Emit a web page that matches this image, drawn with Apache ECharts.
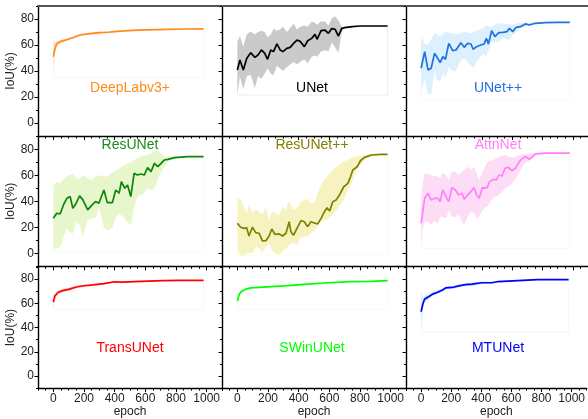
<!DOCTYPE html>
<html><head><meta charset="utf-8">
<script src="https://cdn.jsdelivr.net/npm/echarts@6/dist/echarts.min.js"></script>
<style>html,body{margin:0;padding:0;background:#fff}#c{width:588px;height:419px}</style>
</head><body><div id="c"></div>
<script>
// ---------------- data ----------------
const modelNames = ['DeepLabv3+','UNet','UNet++','ResUNet','ResUNet++','AttnNet','TransUNet','SWinUNet','MTUNet'];
const xTickValues = [0,200,400,600,800,1000];
const yTickValues = [0,20,40,60,80];
const bandFloor = [35,21.5,17.7,1.3,-2,3.8,55,55,36];

const deeplabEpoch = [0,10,22,50,87,130,174,240,300,360,413,460,522,600,740,860,980];
const deeplabMean  = [51,57,61,62.8,64,65.8,67.7,68.8,69.5,69.8,70.5,70.8,71.3,71.6,72,72.3,72.4];
const deeplabUpper = [65,62,63,64,65,66.7,68.5,69.6,70.2,70.5,71.2,71.5,71.9,72.1,72.4,72.6,72.6];
const deeplabLower = [35,52,59,61.5,63,65,67,68,68.8,69.1,69.8,70.2,70.7,71.1,71.6,72,72.2];

const unetEpoch = [0,17,39,61,87,114,135,157,179,197,218,236,258,279,297,323,345,367,389,410,437,459,485,507,520,546,572,594,616,638,659,681,700,750,800,900,980];
const unetMean  = [40.8,48.5,40.8,49.7,54.1,50.5,52.3,56.2,53.6,49,56.2,54.9,60.8,56.2,54.9,57.4,58.2,61.3,63.8,62.8,58.7,63.3,65.1,68.2,64.4,71,71.5,69,72.6,72.1,66.9,72.8,73.3,74.2,74.6,74.6,74.6];
const unetUpper = [62.5,66.9,58.7,68,70.3,68,70,71,70,66,68,72.5,71,72,74,70,73,76.5,72,74,75,74,78,77,75.5,78,78,75,80.5,82,79,74,74,74.5,74.8,74.8,74.8];
const unetLower = [21.5,35.9,26,36,37,27,36,34,38,42,38,37,44,42,40,43,45,47,45,47,49,46,51,52,51,55,56,55,62,58,54,70,72.8,73.8,74.4,74.4,74.4];

const unetppEpoch = [0,23,45,66,88,103,125,143,160,182,208,230,262,284,306,328,343,365,393,415,430,443,465,486,512,539,567,582,604,626,654,687,713,752,817,904,980];
const unetppMean  = [42.1,54.9,40.8,42.1,53.6,51,46.4,51,48.9,61.3,55.6,56.2,61.8,58.2,61.3,60.8,56.7,58.7,60,60.8,65.1,60.8,71,66.4,69.5,69.7,70.3,72.8,70.3,73.6,74.1,76.2,75.4,76.7,77.2,77.4,77.4];
const unetppUpper = [66.4,61,60,64.4,69,68,66.5,68.5,70.3,69.5,69,68,69,70.3,69.5,69,70,71,72,73.5,75.4,74,74,75.5,76.7,76.5,76,76,75.5,76.5,77.2,77.2,77.2,77.4,77.5,77.6,77.6];
const unetppLower = [24,34.4,22,22,40.8,33,32,38.5,35,43,40,40,48.5,49.7,47,44,42.1,47,51,53,51,56,62.5,62,62.5,66,64,64,68,70,72.8,74.6,75,76.2,77,77.2,77.2];

const resunetEpoch = [0,22,44,66,88,110,127,149,171,193,224,253,275,297,330,352,385,407,429,444,466,484,505,527,549,571,593,615,637,659,681,703,725,747,791,879,980];
const resunetMean  = [26.9,30.8,30.2,37.2,42.3,43.6,34.6,38.5,44.2,41.1,33.4,37.2,39.8,38.5,48.7,39,39,48.7,46.2,55.1,50,52.6,43.6,61.5,60.2,61,60.2,66,62.8,69.2,66.6,69.2,71.8,72.3,73.6,74.4,74.4];
const resunetUpper = [52.5,55,53.8,57,59,60.5,61,58,57,60,57.5,56.4,59,60,59,59,62,64,65,66.6,68,69.2,70,71.8,73,74.4,75,75.6,77,79.5,78.5,77,74.4,74.5,74.6,74.6,74.6];
const resunetLower = [2.5,4,5,12,19,16,15,24,22,13,25.6,26.9,26.9,35,20,17.8,19,28,30,29.3,27,24,21.5,36,43.6,45,46.2,50,48.7,50,56.4,62.8,66.6,70.5,73,74.2,74.2];

const resunetppEpoch = [0,22,44,61,76,98,120,142,164,186,207,225,245,273,295,317,338,349,367,389,415,437,459,480,507,524,546,568,585,603,622,644,666,694,721,738,753,782,803,830,873,939,980];
const resunetppMean  = [23.1,20,19.2,19.7,13.3,20,15.9,15.4,9.5,9.7,13.3,18.7,14.6,14.9,13.3,15.4,24.3,16.6,14,19.2,25.1,24.3,20.5,24.3,23.1,22.6,26.9,32,35.1,32.5,39.7,41,44.8,51.2,53.8,58.9,64.1,66.6,71.2,73.8,75.6,76.1,76.1];
const resunetppUpper = [42.3,41.5,35,31,37.2,31,34,32,30,35,25.6,32,31,29,35.9,33,41,38,33,35,40,41,42,38,40,46.2,52.6,56.4,59,61.5,64,66.6,67.9,70.5,72,73.1,74,74.6,75,75.4,76,76.3,76.3];
const resunetppLower = [2.5,-2.1,-1.3,0,0.5,0,5.1,3.8,0.5,5,7.7,3,0,-1.3,1.5,3.8,6,7.7,7.7,6,12.8,12.8,12.8,15.4,18,20.5,24,25.6,25.6,28,29.5,33,37,41,48.7,52,56.4,65,68,71.5,74.4,75.8,75.8];

const attnEpoch = [0,12,23,44,66,88,110,125,142,164,182,203,225,247,269,284,306,328,349,365,382,404,421,436,452,473,495,513,534,552,573,599,621,647,669,691,713,734,756,817,904,980];
const attnMean  = [23.1,33.3,42.3,46.2,41,42.3,42.3,39.7,48.7,43.6,39.7,50.7,48.7,44.8,46.2,41.5,44.8,47.4,50.7,44.8,42.3,50.7,50,50.7,55.1,56.9,56.4,60.2,59.5,65.4,66.2,63.6,65.4,70.5,73.1,74.4,72.3,74.4,76.5,77,77,77];
const attnUpper = [43.6,55,61.5,61,60.2,59.5,59,57.7,62,60,56.4,63,63,60,62.8,64,66.6,64,66.6,62,56.4,62,66.6,70,71,71.8,73,74.4,75,75.6,74.5,73.5,74,75.6,76,76.4,76.6,77,77.2,77.4,77.5,77.5];
const attnLower = [3.8,20.2,24,24,22,25,23,28,28,27,33,28,28,30,24,21.5,28.2,32,31,27,28,33.3,35,35.9,39,42.3,43.6,45,47.4,50,51.3,53.8,57,62,66.6,70,71,73.1,75.6,76.4,76.6,76.6];

const transEpoch = [0,10,30,60,100,150,200,260,330,400,410,450,530,620,720,830,980];
const transMean  = [61,66,69,70.5,71.5,73.5,74.5,75.3,76.3,77.8,77,77.5,78,78.4,78.8,79,79];
const transUpper = [66,68,70.5,71.8,72.8,74.5,75.5,76,77,78.5,77.8,78,78.5,78.8,79.1,79.2,79.2];
const transLower = [55,63,67.5,69,70.3,72.5,73.5,74.6,75.6,77,76.2,77,77.5,78,78.5,78.8,78.8];

const swinEpoch = [0,11,26,55,87,197,306,437,590,742,873,980];
const swinMean  = [62,67,69.7,71.7,72.8,73.6,74.4,75.7,77,78,78.2,78.8];
const swinUpper = [63,68,70.3,72.2,73.2,74,74.8,76,77.3,78.2,78.4,79];
const swinLower = [55,66,69,71.2,72.4,73.2,74,75.4,76.7,77.8,78,78.6];

const mtunetEpoch = [0,12,23,55,77,110,143,164,208,251,295,340,360,404,469,513,643,774,980];
const mtunetMean  = [53,59.4,63.3,65.8,67.6,69.2,71,72.8,73.1,74.4,75.4,75.8,76.2,77,77,78,78.8,79.6,79.6];
const mtunetUpper = [69,64,66,68,69.5,70.8,72.5,74,74.5,75.6,76.6,77.5,77.3,78,77.8,78.6,79.2,80,80];
const mtunetLower = [36,55,61,64,66,67.8,69.5,71.5,71.8,73.2,74.3,74.2,75,76,76.2,77.4,78.4,79.2,79.2];

// ---------------- styles ----------------
const lineColors = ['#FF8C1A','#000000','#2171DE','#0B860B','#808000','#FF7FFF','#FF0000','#00FF00','#0000FF'];
const bandColors = ['#FDE2C6','#CACACA','#DDF0FD','#E8F6CC','#F7F3C0','#FDDDF6','#FFD6D6','#D6FFD6','#D3EAFB'];
const titleColors = ['#FF8C1A','#000000','#2171DE','#1C8C1C','#808000','#FF7FFF','#FF0000','#00FF00','#0000FF'];
const titlePos = [[130,88],[312,88],[498,88],[130,145],[312,145],[498,145],[130,348],[312,348],[498,348]];

const epochs = [deeplabEpoch,unetEpoch,unetppEpoch,resunetEpoch,resunetppEpoch,attnEpoch,transEpoch,swinEpoch,mtunetEpoch];
const means  = [deeplabMean,unetMean,unetppMean,resunetMean,resunetppMean,attnMean,transMean,swinMean,mtunetMean];
const uppers = [deeplabUpper,unetUpper,unetppUpper,resunetUpper,resunetppUpper,attnUpper,transUpper,swinUpper,mtunetUpper];
const lowers = [deeplabLower,unetLower,unetppLower,resunetLower,resunetppLower,attnLower,transLower,swinLower,mtunetLower];

const FONT = 'Liberation Sans, Arial, sans-serif';
const colLeft = [38,222,406], rowTop = [6,136.3,267], gW = 184, gH = 130;
const xMin=-100, xMax=1100, yMin=-10, yMax=90;
const plain = v => String(v);

const grid=[], xAxis=[], yAxis=[], series=[], graphic=[];
for (let i=0;i<9;i++){
  const r=Math.floor(i/3), c=i%3;
  grid.push({left:colLeft[c], top:rowTop[r], width:gW, height:gH});
  const xi = xAxis.length;
  xAxis.push({gridIndex:i,type:'value',min:xMin,max:xMax,position:'bottom',
    axisLine:{show:true,onZero:false,lineStyle:{color:'#000',width:1.4}},
    axisTick:{show:true,customValues:xTickValues,length:4,lineStyle:{color:'#000',width:1}},
    axisLabel:{show:r===2,customValues:xTickValues,formatter:plain,fontSize:12,color:'#222',margin:5,fontFamily:FONT},
    splitLine:{show:false},
    name:r===2?'epoch':'',nameLocation:'middle',nameGap:15,nameTextStyle:{fontSize:12,color:'#222',fontFamily:FONT}});
  xAxis.push({gridIndex:i,type:'value',min:xMin,max:xMax,interval:50,position:'bottom',
    axisLine:{show:false,onZero:false},axisTick:{show:true,length:2.5,lineStyle:{color:'#000',width:1}},
    axisLabel:{show:false},splitLine:{show:false}});
  if (r===0){
    xAxis.push({gridIndex:i,type:'value',min:xMin,max:xMax,position:'top',
      axisLine:{show:true,onZero:false,lineStyle:{color:'#555',width:2}},axisTick:{show:false},axisLabel:{show:false},splitLine:{show:false}});
  }
  const yi = yAxis.length;
  yAxis.push({gridIndex:i,type:'value',min:yMin,max:yMax,position:'left',
    axisLine:{show:true,onZero:false,lineStyle:{color:'#000',width:1.4}},
    axisTick:{show:true,customValues:yTickValues,length:3.5,lineStyle:{color:'#000',width:1}},
    axisLabel:{show:c===0,customValues:yTickValues,formatter:plain,fontSize:12,color:'#222',margin:4,fontFamily:FONT},
    splitLine:{show:false},
    name:c===0?'IoU(%)':'',nameLocation:'middle',nameGap:16,nameTextStyle:{fontSize:12,color:'#222',fontFamily:FONT}});
  yAxis.push({gridIndex:i,type:'value',min:yMin,max:yMax,interval:10,position:'left',
    axisLine:{show:false,onZero:false},axisTick:{show:true,length:2,lineStyle:{color:'#000',width:1}},
    axisLabel:{show:false},splitLine:{show:false}});

  const xs=epochs[i], mu=means[i], hi=uppers[i], lo=lowers[i], fl=bandFloor[i], bc=bandColors[i];
  series.push({type:'custom',xAxisIndex:xi,yAxisIndex:yi,silent:true,z:1,
    data:[[xs[0],lo[0]]],
    renderItem:function(params,api){
      const pts=[];
      for(let k=0;k<xs.length;k++) pts.push(api.coord([xs[k],hi[k]]));
      for(let k=xs.length-1;k>=0;k--) pts.push(api.coord([xs[k],lo[k]]));
      const n=xs.length-1;
      const frame=[api.coord([xs[0],lo[0]]),api.coord([xs[0],fl]),api.coord([xs[n],fl]),api.coord([xs[n],hi[n]])];
      return {type:'group',children:[
        {type:'polyline',shape:{points:frame},style:{stroke:bc,lineWidth:1,fill:null,opacity:0.35}},
        {type:'polygon',shape:{points:pts},style:{fill:bc,stroke:null}}
      ]};
    }});
  series.push({type:'line',xAxisIndex:xi,yAxisIndex:yi,z:3,showSymbol:false,silent:true,
    data:xs.map((x,k)=>[x,mu[k]]),lineStyle:{color:lineColors[i],width:1.7},itemStyle:{color:lineColors[i]}});
  graphic.push({type:'text',x:titlePos[i][0],y:titlePos[i][1],z:10,
    style:{text:modelNames[i],fill:titleColors[i],font:'14px '+FONT,textAlign:'center',textVerticalAlign:'middle'}});
}

const chart = echarts.init(document.getElementById('c'),null,{renderer:'canvas'});
chart.setOption({animation:false,backgroundColor:'#fff',grid,xAxis,yAxis,series,graphic});
</script></body></html>
